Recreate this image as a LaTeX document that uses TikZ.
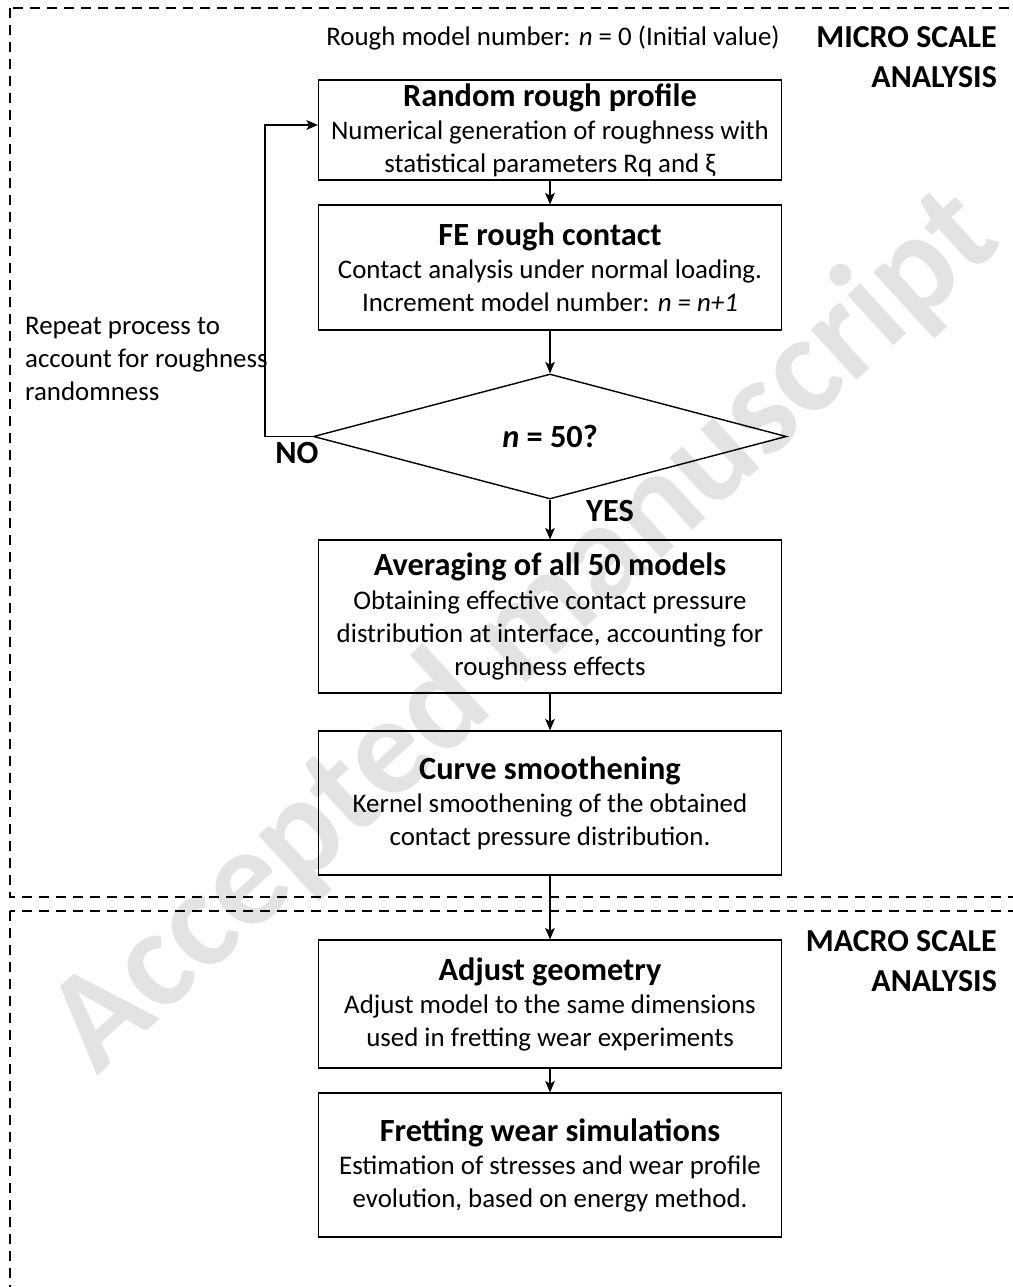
\documentclass[tikz,border=0pt]{standalone}
\usepackage{fontspec}
\setmainfont{Carlito}
\usetikzlibrary{arrows.meta,shapes.geometric}

\newcommand\bodyfont{\fontsize{15.3}{18.8}\selectfont}
\newcommand\titlefont{\fontsize{18.4}{18.8}\selectfont\bfseries}
\def\pxu{0.02cm}

\begin{document}
\begin{tikzpicture}[
  x=0.02cm, y=-0.02cm,
  >={Stealth[length=6.5pt,width=5.5pt,inset=1.5pt]},
  every node/.style={font=\bodyfont},
  box/.style={draw, line width=0.7pt, minimum width=463*\pxu, align=center, inner sep=2pt},
  decision/.style={draw, diamond, line width=0.8pt, minimum width=473*\pxu, minimum height=125*\pxu, inner sep=0pt},
  flow/.style={->, line width=0.6pt},
  frame/.style={dashed, line width=1.1pt, dash pattern=on 10*\pxu off 7*\pxu},
  side/.style={font=\fontsize{18.2}{22.7}\selectfont\bfseries, align=right}
]

% Parameters (in pixels of the reference)
\def\cx{550}   % centre line of the flow

\useasboundingbox (0,0) rectangle (1013,1287);

% --- Watermark ---
\node[rotate=42.5, text=gray!22, font=\fontsize{80}{84}\selectfont\bfseries] (wm) at (525,632) {Accepted manuscript};

% --- Dashed frames ---
\begin{scope}
  \clip (0,0) rectangle (1013,1287);
  \draw[frame] (10,8) rectangle (1040,897);
  \draw[frame] (10,911) rectangle (1040,1320);
\end{scope}

% --- Frame titles ---
\node[side, anchor=north east] (micro) at (1003,20) {MICRO SCALE\\ANALYSIS};
\node[side, anchor=north east] (macro) at (1003,924) {MACRO SCALE\\ANALYSIS};

% --- Micro scale steps ---
\node (init) at (553,38) {Rough model number: \textit{n} = 0 (Initial value)};

\node[box, minimum height=100*\pxu] (rough) at (\cx,130) {};
\node[align=center, inner sep=0pt, anchor=base] (roughtxt) at (\cx,173)
  {{\titlefont Random rough profile}\\
   Numerical generation of roughness with\\
   statistical parameters Rq and ξ};

\node[box, minimum height=125*\pxu] (fe) at (\cx,267.5)
  {{\titlefont FE rough contact}\\
   Contact analysis under normal loading.\\
   Increment model number: \textit{n = n+1}};

\node[decision] (check) at (\cx,436.5) {\titlefont\textit{n} = 50?};

\node[box, minimum height=153*\pxu] (avg) at (\cx,616.5)
  {{\titlefont Averaging of all 50 models}\\
   Obtaining effective contact pressure\\
   distribution at interface, accounting for\\
   roughness effects};

\node[box, minimum height=144*\pxu] (smooth) at (\cx,803)
  {{\titlefont Curve smoothening}\\
   Kernel smoothening of the obtained\\
   contact pressure distribution.};

% --- Macro scale steps ---
\node[box, minimum height=128*\pxu] (geom) at (\cx,1004)
  {{\titlefont Adjust geometry}\\
   Adjust model to the same dimensions\\
   used in fretting wear experiments};

\node[box, minimum height=144*\pxu] (wear) at (\cx,1165)
  {{\titlefont Fretting wear simulations}\\
   Estimation of stresses and wear profile\\
   evolution, based on energy method.};

% --- Loop labels ---
\node[align=left, anchor=north west] (repeat) at (19,311)
  {Repeat process to\\account for roughness\\randomness};
\node[font=\titlefont] (no) at (297,453) {NO};
\node[font=\titlefont] (yes) at (610,511) {YES};

% --- Connectors ---
\coordinate (back) at (265,125);
\draw[flow] (rough) -- (fe);
\draw[flow] (fe) -- (check);
\draw[flow] (check.west) -| (back) -- (back -| rough.west);
\draw[flow] (check) -- (avg);
\draw[flow] (avg) -- (smooth);
\draw[flow] (smooth) -- (geom);
\draw[flow] (geom) -- (wear);

\end{tikzpicture}
\end{document}
